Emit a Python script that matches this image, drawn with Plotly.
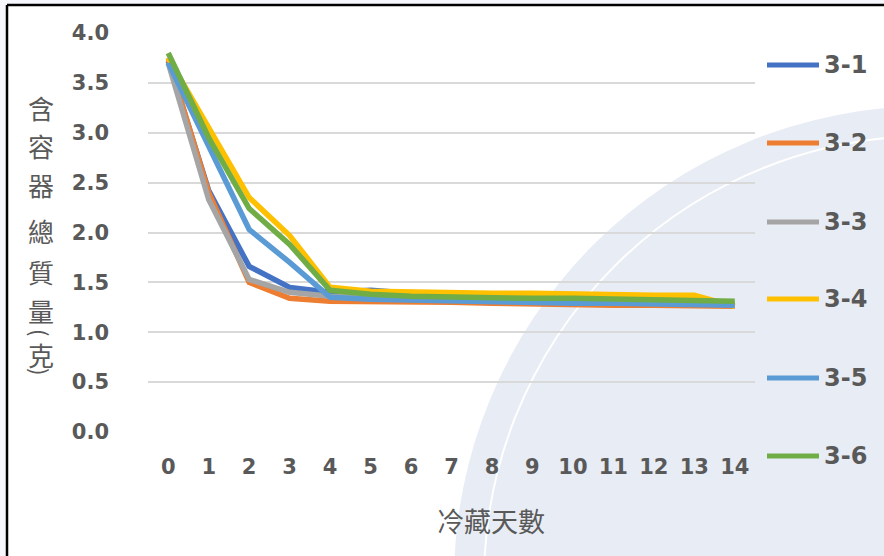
import plotly.graph_objects as go

days = list(range(15))
series_names = ["3-1", "3-2", "3-3", "3-4", "3-5", "3-6"]
s31 = [3.72, 2.42, 1.66, 1.45, 1.40, 1.42, 1.39, 1.37, 1.36, 1.35, 1.34, 1.33, 1.31, 1.30, 1.28]
s32 = [3.75, 2.40, 1.50, 1.34, 1.31, 1.31, 1.30, 1.30, 1.29, 1.28, 1.28, 1.27, 1.27, 1.27, 1.26]
s33 = [3.70, 2.33, 1.53, 1.40, 1.36, 1.35, 1.34, 1.33, 1.32, 1.31, 1.31, 1.30, 1.30, 1.29, 1.28]
s34 = [3.75, 3.06, 2.35, 1.97, 1.45, 1.41, 1.40, 1.40, 1.39, 1.39, 1.38, 1.38, 1.37, 1.37, 1.26]
s35 = [3.70, 2.88, 2.03, 1.70, 1.35, 1.33, 1.32, 1.31, 1.30, 1.30, 1.29, 1.29, 1.28, 1.28, 1.27]
s36 = [3.80, 2.95, 2.24, 1.88, 1.42, 1.38, 1.36, 1.35, 1.35, 1.34, 1.34, 1.33, 1.33, 1.32, 1.31]
series_values = [s31, s32, s33, s34, s35, s36]
colors = ["#4472C4", "#ED7D31", "#A5A5A5", "#FFC000", "#5B9BD5", "#70AD47"]
y_ticks = [0.0, 0.5, 1.0, 1.5, 2.0, 2.5, 3.0, 3.5, 4.0]
y_title_chars = ["含", "容", "器", "總", "質", "量", "(", "克", ")"]
x_title = "冷藏天數"

W, H = 884, 556
L, R, T, B = 148, 755, 33, 432
TXT = "#595959"
TICKFONT = dict(family="DejaVu Sans", size=21, color=TXT, weight="bold")


def px(x):
    return (x - L) / (R - L)


def py(y):
    return (B - y) / (B - T)


fig = go.Figure()
for name, vals, c in zip(series_names, series_values, colors):
    fig.add_trace(go.Scatter(
        x=days, y=vals, name=name, mode="lines",
        line=dict(color=c, width=5.5), cliponaxis=False, showlegend=False,
        hoverinfo="skip",
    ))

shapes = []
# pale watermark disc in the background
cx, cy, r = 929, 581, 475
shapes.append(dict(type="circle", xref="paper", yref="paper",
                   x0=px(cx - r), x1=px(cx + r), y0=py(cy + r), y1=py(cy - r),
                   fillcolor="#e8ecf4", line=dict(width=0), layer="below"))
r2 = 445
shapes.append(dict(type="circle", xref="paper", yref="paper",
                   x0=px(cx - r2), x1=px(cx + r2), y0=py(cy + r2), y1=py(cy - r2),
                   fillcolor="rgba(0,0,0,0)", line=dict(width=2, color="white"), layer="below"))
# outer strips beyond the chart frame
shapes.append(dict(type="rect", xref="paper", yref="paper",
                   x0=px(-5), x1=px(7), y0=py(560), y1=py(-5),
                   fillcolor="#f5f7fc", line=dict(width=0), layer="below"))
shapes.append(dict(type="rect", xref="paper", yref="paper",
                   x0=px(-5), x1=px(890), y0=py(5), y1=py(-5),
                   fillcolor="#f5f7fc", line=dict(width=0), layer="below"))
# chart frame
shapes.append(dict(type="line", xref="paper", yref="paper",
                   x0=px(7), x1=px(7), y0=py(560), y1=py(5),
                   line=dict(color="black", width=2.5), layer="above"))
shapes.append(dict(type="line", xref="paper", yref="paper",
                   x0=px(7), x1=px(890), y0=py(5), y1=py(5),
                   line=dict(color="black", width=2.5), layer="above"))

annotations = []
# custom legend
leg_y = [65, 143, 222, 299, 378, 456]
for name, c, yy in zip(series_names, colors, leg_y):
    shapes.append(dict(type="line", xref="paper", yref="paper",
                       x0=px(767), x1=px(819), y0=py(yy), y1=py(yy),
                       line=dict(color=c, width=5), layer="above"))
    annotations.append(dict(text=name, xref="paper", yref="paper", x=px(822), y=py(yy),
                            showarrow=False, xanchor="left", yanchor="middle",
                            font=dict(family="DejaVu Sans", size=24, color=TXT, weight="bold")))

# vertical y-axis title (characters stacked, brackets turned sideways)
ys = [107, 145, 184, 230, 271, 310, 332, 354, 371]
for ch, yy in zip(y_title_chars, ys):
    is_bracket = ch in "()"
    annotations.append(dict(text=ch, xref="paper", yref="paper", x=px(41), y=py(yy),
                            showarrow=False, xanchor="center", yanchor="middle",
                            textangle=90 if is_bracket else 0,
                            font=dict(family="Noto Sans CJK TC", size=22 if is_bracket else 26,
                                      color=TXT)))
annotations.append(dict(text=x_title, xref="paper", yref="paper", x=px(491), y=py(520),
                        showarrow=False, xanchor="center", yanchor="middle",
                        font=dict(family="Noto Sans CJK TC", size=27, color=TXT)))

fig.update_layout(
    width=W, height=H,
    margin=dict(l=L, r=W - R, t=T, b=H - B, pad=0),
    paper_bgcolor="white", plot_bgcolor="rgba(0,0,0,0)",
    showlegend=False, hovermode=False,
    xaxis=dict(range=[-0.5, 14.5], tickmode="array", tickvals=days,
               ticktext=[str(d) for d in days], showgrid=False, zeroline=False,
               showline=False, ticks="", ticklabelstandoff=20, tickfont=TICKFONT),
    yaxis=dict(range=[0, 4], tickmode="array", tickvals=y_ticks,
               ticktext=[f"{v:.1f}" for v in y_ticks],
               showgrid=True, gridcolor="#d9d9d9", gridwidth=1.5, zeroline=False,
               showline=False, ticks="", ticklabelstandoff=38, tickfont=TICKFONT),
    shapes=shapes, annotations=annotations,
)

fig.write_html("out.html", config={"displayModeBar": False},
               post_script="document.body.style.margin='0';")
